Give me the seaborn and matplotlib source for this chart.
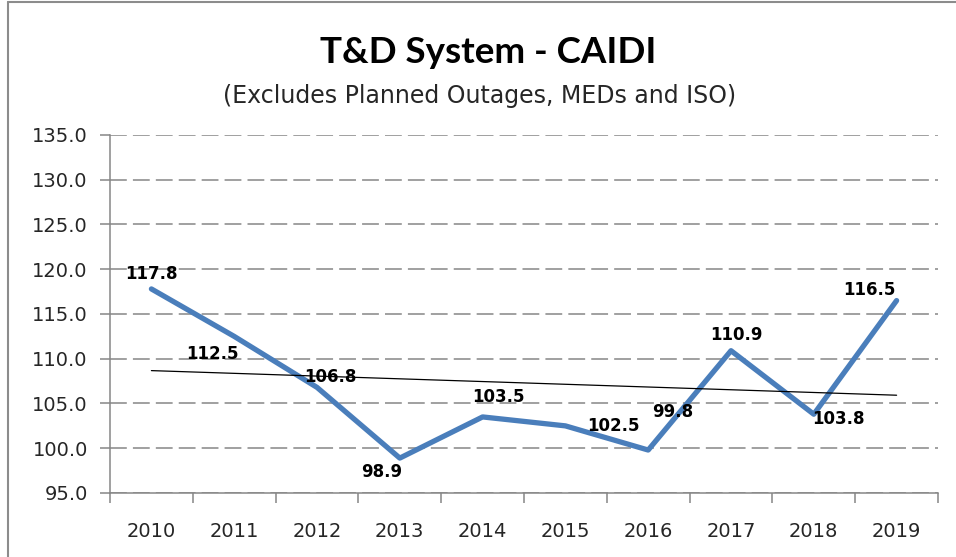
import numpy as np
import pandas as pd
import seaborn as sns
import matplotlib.pyplot as plt
from matplotlib.lines import Line2D

# chart values
years = ["2010", "2011", "2012", "2013", "2014", "2015", "2016", "2017", "2018", "2019"]
caidi = [117.8, 112.5, 106.8, 98.9, 103.5, 102.5, 99.8, 110.9, 103.8, 116.5]
y_ticks = [95, 100, 105, 110, 115, 120, 125, 130, 135]

# where each data label sits relative to its point (pixels, y down)
label_offsets = [(0, -15), (-22, 18), (13, -10), (-18, 14), (16, -20),
                 (48, 0), (24, -38), (5, -16), (25, 5), (-27, -11)]

sns.set_style("white")
plt.rcParams['font.family'] = ['DejaVu Sans']

W, H = 956, 557
fig = plt.figure(figsize=(W / 100, H / 100), dpi=100)
ax = fig.add_axes([110 / W, 1 - 493 / H, 828 / W, 358 / H])

x = np.arange(len(years))
df = pd.DataFrame({"x": x, "caidi": caidi})
slope, intercept = np.polyfit(df["x"], df["caidi"], 1)
df["trend"] = intercept + slope * df["x"]

sns.lineplot(data=df, x="x", y="caidi", color="#4A7EBB", lw=3.8, ax=ax, zorder=3)
sns.lineplot(data=df, x="x", y="trend", color="black", lw=0.9, ax=ax, zorder=4)

grey = "#868686"
ax.set_xlim(-0.5, len(years) - 0.5)
ax.set_ylim(y_ticks[0], y_ticks[-1])
ax.set_yticks(y_ticks)
ax.set_yticklabels([f"{v:.1f}" for v in y_ticks])
ax.yaxis.grid(True, color=grey, lw=1.1, ls=(0, (11, 4)))
ax.xaxis.grid(False)
ax.set_xlabel("")
ax.set_ylabel("")

# category axis: ticks between categories, labels centred on categories
ax.set_xticks(np.arange(-0.5, len(years), 1))
ax.set_xticklabels([])
ax.set_xticks(x, minor=True)
ax.set_xticklabels(years, minor=True)
ax.tick_params(axis="x", which="major", direction="out", length=7, width=1.1, color=grey, bottom=True)
ax.tick_params(axis="x", which="minor", length=0, pad=21, labelsize=14, labelcolor="#262626")
ax.tick_params(axis="y", direction="out", length=7, width=1.1, color=grey, left=True,
               pad=9, labelsize=14, labelcolor="#262626")

for s in ["top", "right"]:
    ax.spines[s].set_visible(False)
for s in ["left", "bottom"]:
    ax.spines[s].set_color(grey)
    ax.spines[s].set_linewidth(1.1)
    ax.spines[s].set_zorder(5)

for xi, v, (dx, dy) in zip(x, caidi, label_offsets):
    ax.annotate(f"{v:.1f}", (xi, v), xytext=(dx * 0.72, -dy * 0.72),
                textcoords="offset points", ha="center", va="center",
                fontsize=12, fontweight="bold", color="black", zorder=6)

fig.text(488 / W, 1 - 63 / H, "T&D System - CAIDI", ha="center", va="baseline",
         fontsize=26.5, fontweight="bold", color="black", family=["Lato", "DejaVu Sans"])
fig.text(480 / W, 1 - 103 / H, "(Excludes Planned Outages, MEDs and ISO)", ha="center",
         va="baseline", fontsize=17, color="#262626")

# chart frame, cut off at right and bottom in the screenshot
fig.add_artist(Line2D([8 / W, 1], [1 - 2 / H, 1 - 2 / H], color="#8c8c8c", lw=1.5))
fig.add_artist(Line2D([8 / W, 8 / W], [0, 1 - 2 / H], color="#8c8c8c", lw=1.5))

fig.savefig("out.png", dpi=100)
